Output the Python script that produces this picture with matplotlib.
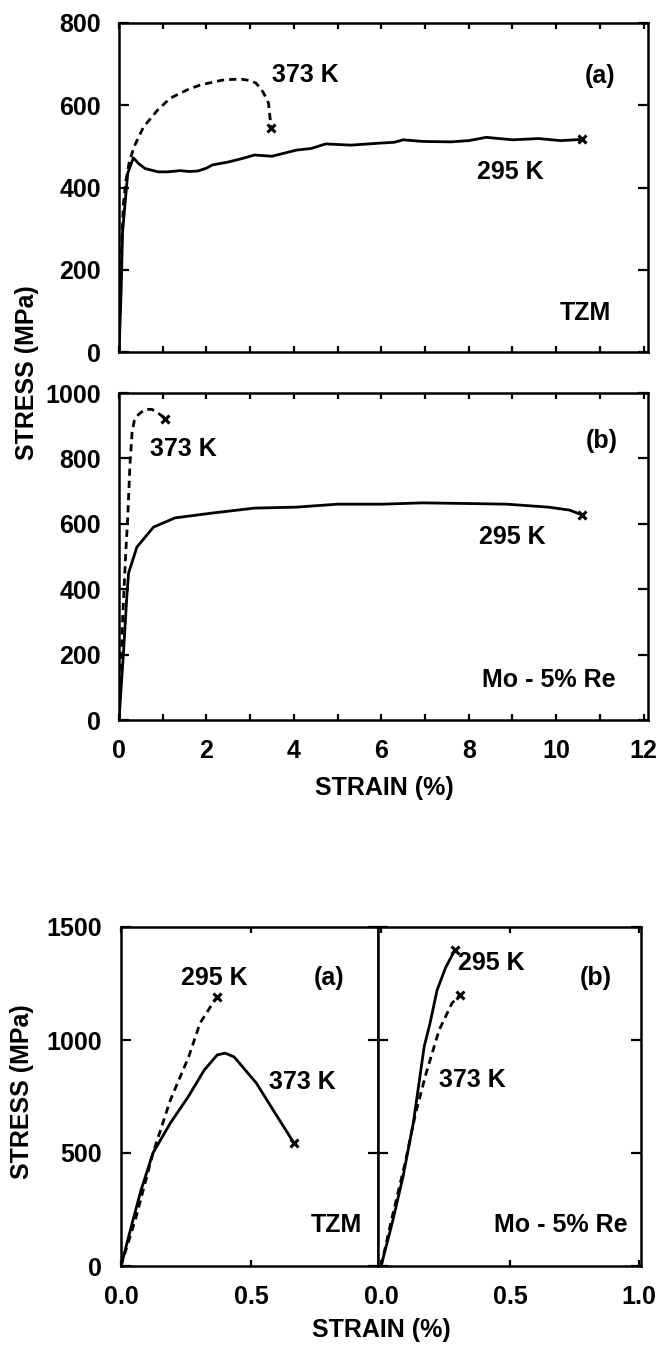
import matplotlib
matplotlib.use('Agg')
import matplotlib.pyplot as plt

plt.rcParams['font.family'] = ['Liberation Sans', 'DejaVu Sans']
plt.rcParams['font.weight'] = 'bold'
plt.rcParams['axes.linewidth'] = 1.8

# TZM, full tensile curves (strain %, stress MPa)
tzm_295_strain = [0, 0.05, 0.08, 0.2, 0.33, 0.45, 0.6, 0.9, 1.1, 1.4, 1.6, 1.8, 2.0, 2.14, 2.5,
                  2.8, 3.1, 3.5, 4.06, 4.4, 4.73, 5.3, 5.98, 6.3, 6.5, 6.94, 7.6, 8.0, 8.4, 9.0,
                  9.6, 10.1, 10.6]
tzm_295_stress = [0, 150, 290, 435, 472, 458, 446, 438, 438, 441, 439, 440, 447, 455, 462,
                  470, 479, 476, 491, 495, 506, 503, 508, 510, 516, 512, 511, 514, 522, 516,
                  519, 514, 517]
tzm_373_strain = [0, 0.04, 0.1, 0.16, 0.23, 0.34, 0.56, 0.88, 1.17, 1.55, 1.85, 2.1, 2.36,
                  2.6, 2.82, 3.0, 3.13, 3.25, 3.33, 3.42, 3.46, 3.47]
tzm_373_stress = [0, 200, 360, 418, 459, 498, 547, 588, 617, 637, 649, 655, 661,
                  663, 663, 660, 654, 640, 625, 605, 564, 545]

# Mo-5%Re, full tensile curves
more_295_strain = [0, 0.1, 0.18, 0.22, 0.41, 0.79, 1.28, 2.14, 3.1, 4.06, 5.0, 6.0, 6.94,
                   8.0, 8.87, 9.82, 10.3, 10.6]
more_295_stress = [0, 200, 380, 450, 529, 590, 618, 633, 648, 651, 660, 660, 664,
                   662, 660, 651, 642, 627]
more_373_strain = [0, 0.08, 0.15, 0.2, 0.25, 0.3, 0.35, 0.45, 0.6, 0.75, 0.88, 0.98, 1.05]
more_373_stress = [0, 300, 500, 620, 780, 880, 915, 935, 950, 950, 940, 930, 922]

# Initial loading region, strain up to 1 %
tzm_fine_295_strain = [0, 0.058, 0.123, 0.19, 0.26, 0.304, 0.34, 0.369]
tzm_fine_295_stress = [0, 217, 500, 735, 925, 1075, 1140, 1190]
tzm_fine_373_strain = [0, 0.043, 0.077, 0.123, 0.19, 0.258, 0.32, 0.37, 0.40, 0.435,
                       0.52, 0.585, 0.665]
tzm_fine_373_stress = [0, 190, 336, 500, 633, 748, 867, 934, 942, 925, 810, 690, 544]
more_fine_295_strain = [0, 0.043, 0.085, 0.125, 0.167, 0.19, 0.217, 0.25, 0.287]
more_fine_295_stress = [0, 190, 395, 633, 970, 1075, 1220, 1320, 1400]
more_fine_373_strain = [0, 0.043, 0.093, 0.134, 0.175, 0.225, 0.275, 0.306]
more_fine_373_stress = [0, 217, 455, 677, 854, 1044, 1163, 1200]

FS = 18
DASH = (0, (2.6, 1.8))

W, H = 665, 1349


def box(x0, y0, x1, y1):
    return [x0 / W, 1 - y1 / H, (x1 - x0) / W, (y1 - y0) / H]


def curve(ax, x, y, ls):
    ax.plot(x, y, color='black', lw=2, ls=ls)
    ax.plot(x[-1], y[-1], marker='x', color='black', ms=6, mew=2.2)


fig = plt.figure(figsize=(6.65, 13.49), dpi=100)

ax_a = fig.add_axes(box(119, 23, 648, 352))
ax_b = fig.add_axes(box(119, 393, 648, 720))
ax_c = fig.add_axes(box(121, 927, 378, 1266))
ax_d = fig.add_axes(box(378, 927, 641, 1266))

curve(ax_a, tzm_373_strain, tzm_373_stress, DASH)
curve(ax_a, tzm_295_strain, tzm_295_stress, '-')
curve(ax_b, more_373_strain, more_373_stress, DASH)
curve(ax_b, more_295_strain, more_295_stress, '-')
curve(ax_c, tzm_fine_295_strain, tzm_fine_295_stress, DASH)
curve(ax_c, tzm_fine_373_strain, tzm_fine_373_stress, '-')
curve(ax_d, more_fine_373_strain, more_fine_373_stress, DASH)
curve(ax_d, more_fine_295_strain, more_fine_295_stress, '-')

for ax, top in ((ax_a, 800), (ax_b, 1000)):
    ax.set_xlim(0, 12.1)
    ax.set_ylim(0, top)
    ax.set_yticks(range(0, top + 1, 200))
    ax.set_xticks(range(0, 13, 2))
    ax.set_xticks(range(1, 12, 2), minor=True)
    ax.tick_params(axis='y', which='both', direction='in', left=True, right=True,
                   length=7, width=1.6, labelsize=FS, pad=13)
    ax.tick_params(axis='x', which='both', direction='in', top=True, bottom=True,
                   length=4, width=1.6, labelsize=FS, pad=14)
ax_a.tick_params(axis='x', labelbottom=False)

ax_c.set_xlim(0, 0.988)
ax_d.set_xlim(-0.012, 1.008)
for ax in (ax_c, ax_d):
    ax.set_ylim(0, 1500)
    ax.set_yticks([0, 500, 1000, 1500])
    ax.tick_params(axis='y', direction='in', left=True, right=True,
                   length=7, width=1.6, labelsize=FS, pad=14)
    ax.tick_params(axis='x', direction='in', top=True, bottom=True,
                   length=4, width=1.6, labelsize=FS, pad=14)
ax_c.set_xticks([0, 0.5])
ax_c.set_xticklabels(['0.0', '0.5'])
ax_d.set_xticks([0, 0.5, 1.0])
ax_d.set_xticklabels(['0.0', '0.5', '1.0'])
ax_d.tick_params(axis='y', labelleft=False)

txt = dict(fontsize=FS, fontweight='bold', va='center')

ax_a.text(3.51, 674, '373 K', ha='left', **txt)
ax_a.text(8.2, 438, '295 K', ha='left', **txt)
ax_a.text(0.938, 0.84, '(a)', ha='right', transform=ax_a.transAxes, **txt)
ax_a.text(0.93, 0.12, 'TZM', ha='right', transform=ax_a.transAxes, **txt)

ax_b.text(0.70, 829, '373 K', ha='left', **txt)
ax_b.text(8.24, 560, '295 K', ha='left', **txt)
ax_b.text(0.942, 0.853, '(b)', ha='right', transform=ax_b.transAxes, **txt)
ax_b.text(0.938, 0.122, 'Mo - 5% Re', ha='right', transform=ax_b.transAxes, **txt)

ax_c.text(0.36, 1275, '295 K', ha='center', **txt)
ax_c.text(0.57, 814, '373 K', ha='left', **txt)
ax_c.text(0.87, 0.85, '(a)', ha='right', transform=ax_c.transAxes, **txt)
ax_c.text(0.938, 0.12, 'TZM', ha='right', transform=ax_c.transAxes, **txt)

ax_d.text(0.30, 1340, '295 K', ha='left', **txt)
ax_d.text(0.225, 823, '373 K', ha='left', **txt)
ax_d.text(0.887, 0.85, '(b)', ha='right', transform=ax_d.transAxes, **txt)
ax_d.text(0.949, 0.12, 'Mo - 5% Re', ha='right', transform=ax_d.transAxes, **txt)

fig.text(27 / W, 1 - 373 / H, 'STRESS (MPa)', rotation=90, ha='center', va='center',
         fontsize=FS, fontweight='bold')
fig.text(384 / W, 1 - 788 / H, 'STRAIN (%)', ha='center', va='center',
         fontsize=FS, fontweight='bold')
fig.text(22 / W, 1 - 1092 / H, 'STRESS (MPa)', rotation=90, ha='center', va='center',
         fontsize=FS, fontweight='bold')
fig.text(381 / W, 1 - 1330 / H, 'STRAIN (%)', ha='center', va='center',
         fontsize=FS, fontweight='bold')

fig.savefig('out.png', dpi=100)
